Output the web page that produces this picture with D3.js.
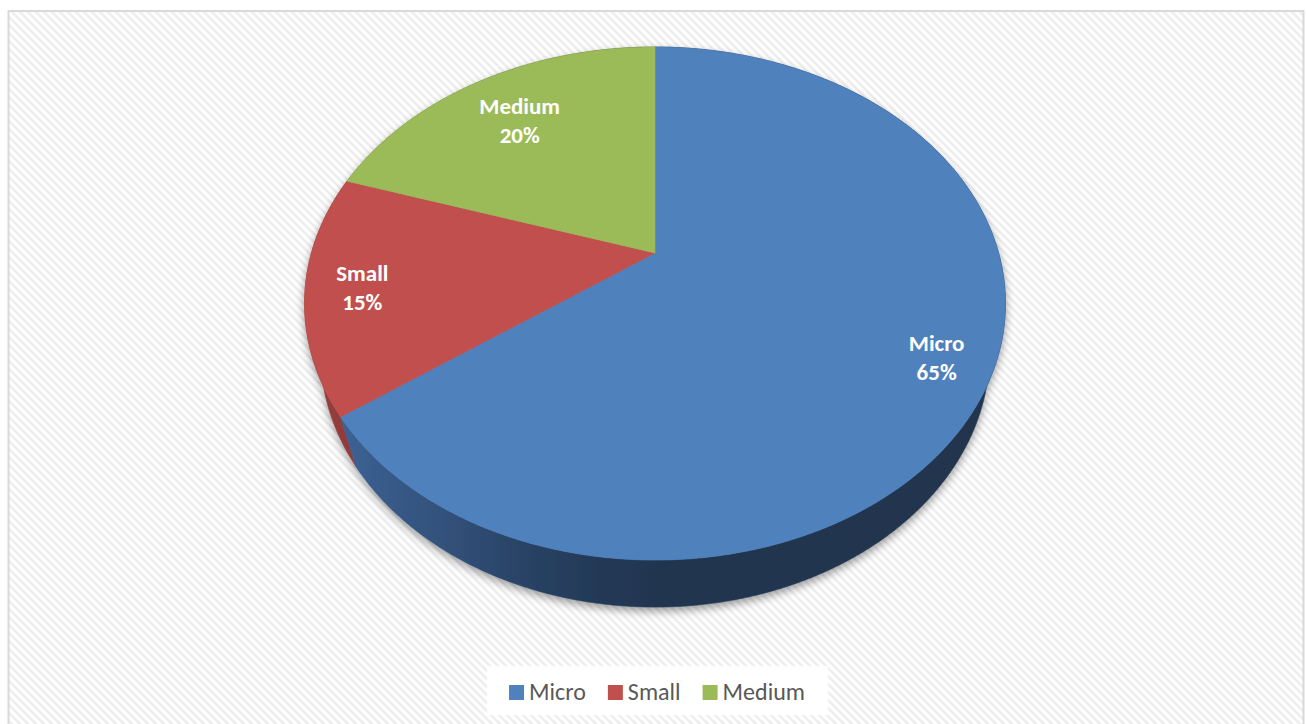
<!DOCTYPE html>
<html>
<head>
<meta charset="utf-8">
<script src="https://cdn.jsdelivr.net/npm/d3@7"></script>
<style>
  body { margin: 0; background: #fff; }
  svg { display: block; }
</style>
</head>
<body>
<svg id="chart" width="1306" height="724"></svg>
<script>
// Enterprise size shares
const categories = ["Micro", "Small", "Medium"];
const shares = [65, 15, 20];
const percentLabels = ["65%", "15%", "20%"];

const palette = ["#4f81bd", "#c0504d", "#9bbb59"];
const color = d3.scaleOrdinal(categories, palette);

const svg = d3.select("#chart");
const defs = svg.append("defs");

// Diagonal hatch used as the chart-area background
const hatch = defs.append("pattern")
  .attr("id", "hatch")
  .attr("patternUnits", "userSpaceOnUse")
  .attr("width", 8).attr("height", 8);
hatch.append("rect").attr("width", 8).attr("height", 8).attr("fill", "#ffffff");
hatch.append("path")
  .attr("d", "M-2,-2 L10,10 M-2,6 L2,10 M6,-2 L10,2")
  .attr("stroke", "#eeeeee").attr("stroke-width", 2.6);

// Soft shadow beneath the pie
const shadow = defs.append("filter").attr("id", "pieShadow")
  .attr("x", "-10%").attr("y", "-10%").attr("width", "120%").attr("height", "125%");
shadow.append("feDropShadow")
  .attr("dx", 0).attr("dy", 4).attr("stdDeviation", 4)
  .attr("flood-color", "#000").attr("flood-opacity", 0.38);

// Chart frame
svg.append("rect")
  .attr("x", 8.5).attr("y", 11).attr("width", 1295).attr("height", 730)
  .attr("fill", "url(#hatch)")
  .attr("stroke", "#d9d9d9").attr("stroke-width", 2);

// Perspective camera looking down on a thick disc
const geo = { cx: 655, cy: 253, sx: 343.6, sy: 246.6, k: 0.197, thick: 0.0638 };
const sinA = geo.sy / geo.sx;
const cosA = Math.sqrt(1 - sinA * sinA);
const rOverD = geo.k / cosA;
const gain = geo.sx / rOverD;

// theta: clockwise from 12 o'clock, r: fraction of radius, z: 0 top face .. 1 bottom face
function project(theta, r, z) {
  const u = r * Math.sin(theta);
  const v = -r * Math.cos(theta);
  const den = 1 + z * geo.thick * sinA - v * geo.k;
  return [
    geo.cx + geo.sx * u / den,
    geo.cy + gain * (z * geo.thick * cosA + v * rOverD * sinA) / den
  ];
}

function arcPoints(a0, a1, z) {
  const n = Math.max(2, Math.ceil((a1 - a0) / 0.005));
  return d3.range(n + 1).map(i => project(a0 + (a1 - a0) * i / n, 1, z));
}

const pie = d3.pie().sort(null).value(d => d.value);
const data = categories.map((c, i) => ({ name: c, value: shares[i], label: percentLabels[i] }));
const arcs = pie(data);

const line = d3.line().curve(d3.curveLinear);

// Side-wall shading runs dark toward the right of the disc
const xLeft = geo.cx - 350, xRight = geo.cx + 350;
const shadeStops = [[0, 0.80], [0.06, 0.75], [0.2, 0.63], [0.3, 0.53], [0.42, 0.44], [0.5, 0.41], [1, 0.40]];
categories.forEach((c, i) => {
  const g = defs.append("linearGradient")
    .attr("id", "wall" + i)
    .attr("gradientUnits", "userSpaceOnUse")
    .attr("x1", xLeft).attr("y1", 0).attr("x2", xRight).attr("y2", 0);
  const base = d3.rgb(color(c));
  shadeStops.forEach(([o, f]) => {
    g.append("stop").attr("offset", o)
      .attr("stop-color", d3.rgb(base.r * f, base.g * f, base.b * f * 1.03).formatHex());
  });
});

const pieG = svg.append("g").attr("filter", "url(#pieShadow)");

// Walls first, back slices before front ones
const wallOrder = arcs.map((a, i) => ({ a, i }))
  .sort((p, q) => {
    const depth = x => -Math.cos((x.a.startAngle + x.a.endAngle) / 2);
    return depth(p) - depth(q);
  });
pieG.selectAll("path.wall")
  .data(wallOrder)
  .join("path")
  .attr("class", "wall")
  .attr("d", d => line(arcPoints(d.a.startAngle, d.a.endAngle, 0)
    .concat(arcPoints(d.a.startAngle, d.a.endAngle, 1).reverse())) + "Z")
  .attr("fill", d => `url(#wall${d.i})`)
  .attr("stroke", d => `url(#wall${d.i})`)
  .attr("stroke-width", 0.6);

// Top faces
pieG.selectAll("path.top")
  .data(arcs)
  .join("path")
  .attr("class", "top")
  .attr("d", d => line([project(0, 0, 0)].concat(arcPoints(d.startAngle, d.endAngle, 0))) + "Z")
  .attr("fill", d => color(d.data.name))
  .attr("stroke", d => color(d.data.name))
  .attr("stroke-width", 0.6);

// Data labels
const labelRadius = { Micro: 0.85, Small: 0.84, Medium: 0.75 };
const labels = svg.append("g")
  .attr("font-family", "Calibri, Carlito, Lato, sans-serif")
  .attr("font-weight", "bold")
  .attr("font-size", 23)
  .attr("fill", "#ffffff")
  .attr("text-anchor", "middle");
arcs.forEach(d => {
  const mid = (d.startAngle + d.endAngle) / 2;
  const [x, y] = project(mid, labelRadius[d.data.name], 0);
  const t = labels.append("text");
  t.append("tspan").attr("x", x).attr("y", y - 5).text(d.data.name);
  t.append("tspan").attr("x", x).attr("y", y + 24).text(d.data.label);
});

// Legend
const legend = svg.append("g");
legend.append("rect")
  .attr("x", 487).attr("y", 666).attr("width", 341).attr("height", 49)
  .attr("fill", "#ffffff");
const legendItems = legend.append("g")
  .attr("font-family", "Calibri, Carlito, Lato, sans-serif")
  .attr("font-size", 24)
  .attr("fill", "#595959");
let lx = 0;
const swatch = 15, gapText = 5, gapItem = 22;
categories.forEach(c => {
  const g = legendItems.append("g").attr("transform", `translate(${lx},0)`);
  g.append("rect").attr("x", 0).attr("y", 685).attr("width", swatch).attr("height", swatch)
    .attr("fill", color(c));
  const txt = g.append("text").attr("x", swatch + gapText).attr("y", 700).text(c);
  const w = txt.node().getComputedTextLength();
  lx += swatch + gapText + w + gapItem;
});
const totalW = lx - gapItem;
legendItems.attr("transform", `translate(${657 - totalW / 2},0)`);
</script>
</body>
</html>
